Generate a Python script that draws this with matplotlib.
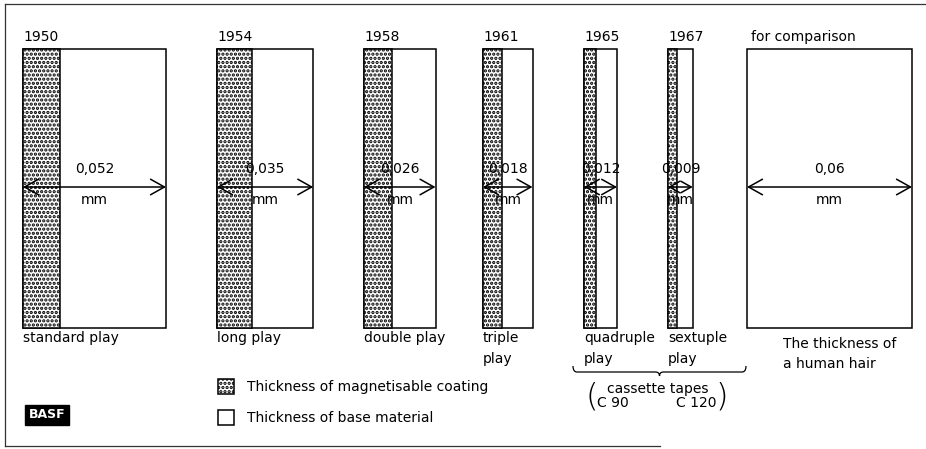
import matplotlib.pyplot as plt
from matplotlib.path import Path
from matplotlib.patches import PathPatch, Rectangle

plt.rcParams['font.family'] = ['DejaVu Sans']
plt.rcParams['hatch.linewidth'] = 1.6

# tape data (thickness in mm)
years = ['1950', '1954', '1958', '1961', '1965', '1967']
total = [0.052, 0.035, 0.026, 0.018, 0.012, 0.009]
coating = [0.0135, 0.0127, 0.0102, 0.0069, 0.0044, 0.0033]
labels = ['standard play', 'long play', 'double play', 'triple\nplay',
          'quadruple\nplay', 'sextuple\nplay']
value_txt = ['0,052', '0,035', '0,026', '0,018', '0,012', '0,009']
hair = 0.06

# layout (pixels)
SCALE = 2750  # px per mm
lefts = [23, 217, 364, 483, 584, 668]
hair_left = 747
top, bottom = 49, 328
arrow_y = 187

fig = plt.figure(figsize=(9.26, 4.49), dpi=100)
ax = fig.add_axes([0, 0, 1, 1])
ax.set_xlim(0, 926)
ax.set_ylim(449, 0)
ax.axis('off')

lw = 1.1
fs = 10
DOTS = '....'


def draw_arrow(x0, w, txt):
    ms = min(20, w * 0.6)
    ax.annotate('', xy=(x0, arrow_y), xytext=(x0 + w, arrow_y),
                arrowprops=dict(arrowstyle='<->,head_length=0.5,head_width=0.28',
                                lw=1.1, color='black', shrinkA=0, shrinkB=0,
                                mutation_scale=ms))
    ax.text(x0 + w / 2, arrow_y - 18, txt, ha='center', va='center', fontsize=fs)
    ax.text(x0 + w / 2, arrow_y + 13, 'mm', ha='center', va='center', fontsize=fs)


for i in range(len(years)):
    w = total[i] * SCALE
    cw = coating[i] * SCALE
    ax.bar(lefts[i], bottom - top, width=w, bottom=top, align='edge',
           facecolor='white', edgecolor='black', linewidth=lw)
    ax.bar(lefts[i], bottom - top, width=cw, bottom=top, align='edge',
           facecolor='white', edgecolor='black', linewidth=lw, hatch=DOTS)
    ax.text(lefts[i], top - 12, years[i], ha='left', va='center', fontsize=fs)
    ax.text(lefts[i], bottom + 3, labels[i], ha='left', va='top',
            fontsize=fs, linespacing=1.6)
    draw_arrow(lefts[i], w, value_txt[i])

# human hair
hw = hair * SCALE
ax.bar(hair_left, bottom - top, width=hw, bottom=top, align='edge',
       facecolor='white', edgecolor='black', linewidth=lw)
ax.text(hair_left + 4, top - 12, 'for comparison', ha='left', va='center', fontsize=fs)
ax.text(hair_left + 36, bottom + 9, 'The thickness of\na human hair', ha='left',
        va='top', fontsize=fs, linespacing=1.5)
draw_arrow(hair_left, hw, '0,06')

# brace under cassette tapes
bx0, bx1, by = 573, 746, 372
mid = (bx0 + bx1) / 2
verts = [(bx0, by - 6), (bx0, by), (bx0 + 4, by), (mid - 4, by), (mid, by), (mid, by + 4),
         (mid, by), (mid + 4, by), (bx1 - 4, by), (bx1, by), (bx1, by - 6)]
codes = [Path.MOVETO, Path.CURVE3, Path.CURVE3, Path.LINETO, Path.CURVE3, Path.CURVE3,
         Path.CURVE3, Path.CURVE3, Path.LINETO, Path.CURVE3, Path.CURVE3]
ax.add_patch(PathPatch(Path(verts, codes), facecolor='none', edgecolor='black', lw=0.9))
ax.text(658, 389, 'cassette tapes', ha='center', va='center', fontsize=fs)
ax.text(597, 403, 'C 90', ha='left', va='center', fontsize=fs)
ax.text(717, 403, 'C 120', ha='right', va='center', fontsize=fs)
ax.text(592, 396, '(', ha='center', va='center', fontsize=23, fontweight='light')
ax.text(722, 396, ')', ha='center', va='center', fontsize=23, fontweight='light')

# legend
ax.add_patch(Rectangle((218, 379), 16, 15, facecolor='white', edgecolor='black',
                       linewidth=lw, hatch=DOTS))
ax.add_patch(Rectangle((218, 410), 16, 15, facecolor='white', edgecolor='black',
                       linewidth=lw))
ax.text(247, 387, 'Thickness of magnetisable coating', ha='left', va='center', fontsize=fs)
ax.text(247, 418, 'Thickness of base material', ha='left', va='center', fontsize=fs)

# BASF logo
ax.text(47, 415, 'BASF', ha='center', va='center', fontsize=9, fontweight='bold',
        color='white', bbox=dict(facecolor='black', edgecolor='black', pad=2.5))

# frame
ax.plot([5, 926], [4, 4], color='#333333', lw=0.9)
ax.plot([5, 5], [4, 446], color='#333333', lw=0.9)
ax.plot([5, 660], [446, 446], color='#333333', lw=0.9)

fig.savefig('out.png', dpi=100)
